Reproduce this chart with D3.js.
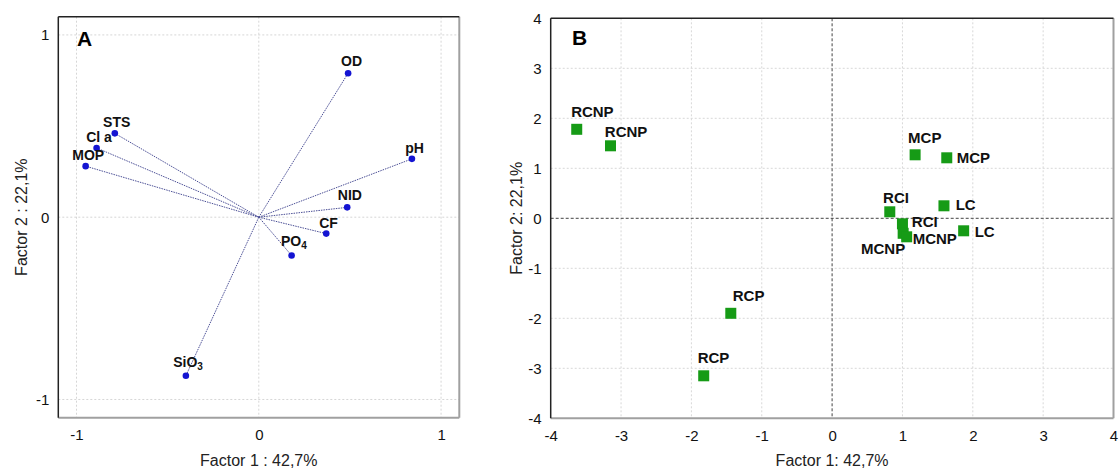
<!DOCTYPE html>
<html>
<head>
<meta charset="utf-8">
<script src="https://cdn.jsdelivr.net/npm/d3@7"></script>
<style>
  body { margin: 0; background: #fff; }
  text { font-family: "Liberation Sans", Arial, sans-serif; }
</style>
</head>
<body>
<div id="wrapper"></div>
<script>
// Panel A: variable loadings
const varNames = ["OD", "pH", "NID", "CF", "PO4", "SiO3", "STS", "Cl a", "MOP"]
const varF1 = [0.49, 0.84, 0.485, 0.37, 0.18, -0.40, -0.79, -0.89, -0.95]
const varF2 = [0.79, 0.32, 0.054, -0.09, -0.21, -0.87, 0.46, 0.38, 0.28]
const ticksA = [-1, 0, 1]

// Panel B: site scores
const siteNames = ["RCNP", "RCNP", "MCP", "MCP", "RCI", "RCI", "MCNP", "MCNP", "LC", "LC", "RCP", "RCP"]
const siteF1 = [-3.63, -3.15, 1.18, 1.63, 0.82, 1.00, 1.01, 1.06, 1.59, 1.87, -1.44, -1.825]
const siteF2 = [1.78, 1.45, 1.27, 1.21, 0.13, -0.11, -0.30, -0.37, 0.25, -0.25, -1.90, -3.15]
const ticksB = [-4, -3, -2, -1, 0, 1, 2, 3, 4]

// label placement (dx, dy, anchor) in px
const labelPosA = [[3.5, -7, "middle"], [-6.7, -5.7, "start"], [-9.4, -7, "start"], [-7, -5.7, "start"],
  [-10.7, -9, "start"], [-12.7, -8.7, "start"], [-11.7, -6.3, "start"], [-10.4, -5.7, "start"], [-13.4, -6, "start"]]
const labelPosB = [[-5.6, -12.6, "start"], [-5.7, -8.7, "start"], [-7, -12, "start"], [10, 5, "start"],
  [-6.7, -9, "start"], [9.4, 3.3, "start"], [2, 21, "end"], [6, 7.6, "start"], [11.7, 4.3, "start"],
  [11, 6, "start"], [2, -12, "start"], [-6, -12.4, "start"]]

const svg = d3.select("#wrapper")
    .append("svg")
    .attr("width", 1120)
    .attr("height", 470)
    .style("background", "#fff")

function frame(g, x, y) {
  const [x0, x1] = x.range()
  const [y1, y0] = y.range()
  g.append("line").attr("x1", x1).attr("x2", x1).attr("y1", y0).attr("y2", y1)
      .attr("stroke", "#a0a0a0").attr("stroke-width", 2)
  g.append("line").attr("x1", x0).attr("x2", x1).attr("y1", y1).attr("y2", y1)
      .attr("stroke", "#a0a0a0").attr("stroke-width", 2)
  g.append("line").attr("x1", x0).attr("x2", x0).attr("y1", y0).attr("y2", y1)
      .attr("stroke", "#222").attr("stroke-width", 1.5)
  g.append("line").attr("x1", x0).attr("x2", x1).attr("y1", y0).attr("y2", y0)
      .attr("stroke", "#222").attr("stroke-width", 1.5)
}

function axes(g, x, y, ticks, xTitle, yTitle, yTitleX) {
  const fmt = d => String(d)
  const [y1] = y.range()
  const [x0] = x.range()
  const xa = g.append("g")
      .attr("transform", `translate(0, ${y1})`)
      .call(d3.axisBottom(x).tickValues(ticks).tickSize(0).tickPadding(12).tickFormat(fmt))
  const ya = g.append("g")
      .attr("transform", `translate(${x0}, 0)`)
      .call(d3.axisLeft(y).tickValues(ticks).tickSize(0).tickPadding(9).tickFormat(fmt))
  for (const a of [xa, ya]) {
    a.select(".domain").remove()
    a.selectAll("text").style("font-size", "15px").attr("fill", "#111")
  }
  const xm = d3.mean(x.range())
  const ym = d3.mean(y.range())
  g.append("text")
      .attr("x", xm).attr("y", 466)
      .attr("text-anchor", "middle")
      .style("font-size", "16px").attr("fill", "#222")
      .text(xTitle)
  g.append("text")
      .attr("transform", `translate(${yTitleX}, ${ym}) rotate(-90)`)
      .attr("text-anchor", "middle")
      .style("font-size", "16px").attr("fill", "#222")
      .text(yTitle)
}

// ---------- Panel A ----------
const xA = d3.scaleLinear().domain([-1.1, 1.1]).range([58.3, 459.3])
const yA = d3.scaleLinear().domain([-1.1, 1.1]).range([417.7, 16.7])
const gA = svg.append("g")

gA.append("g").selectAll("line.vg").data(ticksA).join("line")
    .attr("x1", d => xA(d)).attr("x2", d => xA(d))
    .attr("y1", yA.range()[1]).attr("y2", yA.range()[0])
    .attr("stroke", "#d6d6d6").attr("stroke-dasharray", "2,2")
gA.append("g").selectAll("line.hg").data(ticksA).join("line")
    .attr("y1", d => yA(d)).attr("y2", d => yA(d))
    .attr("x1", xA.range()[0]).attr("x2", xA.range()[1])
    .attr("stroke", "#d6d6d6").attr("stroke-dasharray", "2,2")

const idxA = d3.range(varNames.length)
gA.append("g").selectAll("line").data(idxA).join("line")
    .attr("x1", xA(0)).attr("y1", yA(0))
    .attr("x2", i => xA(varF1[i])).attr("y2", i => yA(varF2[i]))
    .attr("stroke", "#4b4f96").attr("stroke-width", 1)
    .attr("stroke-dasharray", "1.5,1")
gA.append("g").selectAll("circle").data(idxA).join("circle")
    .attr("cx", i => xA(varF1[i])).attr("cy", i => yA(varF2[i]))
    .attr("r", 3.3)
    .attr("fill", "#1414d2")

const labA = gA.append("g").selectAll("text").data(idxA).join("text")
    .attr("x", i => xA(varF1[i]) + labelPosA[i][0])
    .attr("y", i => yA(varF2[i]) + labelPosA[i][1])
    .attr("text-anchor", i => labelPosA[i][2])
    .style("font-size", "14px").style("font-weight", "bold").attr("fill", "#111")
labA.each(function(i) {
  const t = d3.select(this)
  const m = varNames[i].match(/^([A-Za-z]+?)(\d)$/)
  if (m) {
    t.append("tspan").text(m[1])
    t.append("tspan").text(m[2]).attr("dy", 3).style("font-size", "10px")
  } else {
    t.text(varNames[i])
  }
})

frame(gA, xA, yA)
axes(gA, xA, yA, ticksA, "Factor 1 : 42,7%", "Factor 2 : 22,1%", 27)

gA.append("text")
    .attr("x", 77).attr("y", 46)
    .style("font-size", "21px").style("font-weight", "bold")
    .text("A")

// ---------- Panel B ----------
const xB = d3.scaleLinear().domain([-4, 4]).range([550.7, 1113.5])
const yB = d3.scaleLinear().domain([-4, 4]).range([418.3, 18.3])
const gB = svg.append("g")

const innerB = ticksB.filter(d => d !== 0 && Math.abs(d) < 4)
gB.append("g").selectAll("line").data(innerB).join("line")
    .attr("x1", d => xB(d)).attr("x2", d => xB(d))
    .attr("y1", yB.range()[1]).attr("y2", yB.range()[0])
    .attr("stroke", "#d8d8d8").attr("stroke-dasharray", "2,2")
gB.append("g").selectAll("line").data(innerB).join("line")
    .attr("y1", d => yB(d)).attr("y2", d => yB(d))
    .attr("x1", xB.range()[0]).attr("x2", xB.range()[1])
    .attr("stroke", "#d8d8d8").attr("stroke-dasharray", "2,2")
gB.append("line")
    .attr("x1", xB(0)).attr("x2", xB(0)).attr("y1", yB(4)).attr("y2", yB(-4))
    .attr("stroke", "#444").attr("stroke-dasharray", "3,2")
gB.append("line")
    .attr("y1", yB(0)).attr("y2", yB(0)).attr("x1", xB(-4)).attr("x2", xB(4))
    .attr("stroke", "#444").attr("stroke-dasharray", "3,2")

const idxB = d3.range(siteNames.length)
const sq = 11
gB.append("g").selectAll("rect").data(idxB).join("rect")
    .attr("x", i => xB(siteF1[i]) - sq / 2)
    .attr("y", i => yB(siteF2[i]) - sq / 2)
    .attr("width", sq).attr("height", sq)
    .attr("fill", "#169b16")
gB.append("g").selectAll("text").data(idxB).join("text")
    .attr("x", i => xB(siteF1[i]) + labelPosB[i][0])
    .attr("y", i => yB(siteF2[i]) + labelPosB[i][1])
    .attr("text-anchor", i => labelPosB[i][2])
    .style("font-size", "15px").style("font-weight", "bold").attr("fill", "#111")
    .text(i => siteNames[i])

frame(gB, xB, yB)
axes(gB, xB, yB, ticksB, "Factor 1: 42,7%", "Factor 2: 22,1%", 522)

gB.append("text")
    .attr("x", 572).attr("y", 45)
    .style("font-size", "21px").style("font-weight", "bold")
    .text("B")
</script>
</body>
</html>
